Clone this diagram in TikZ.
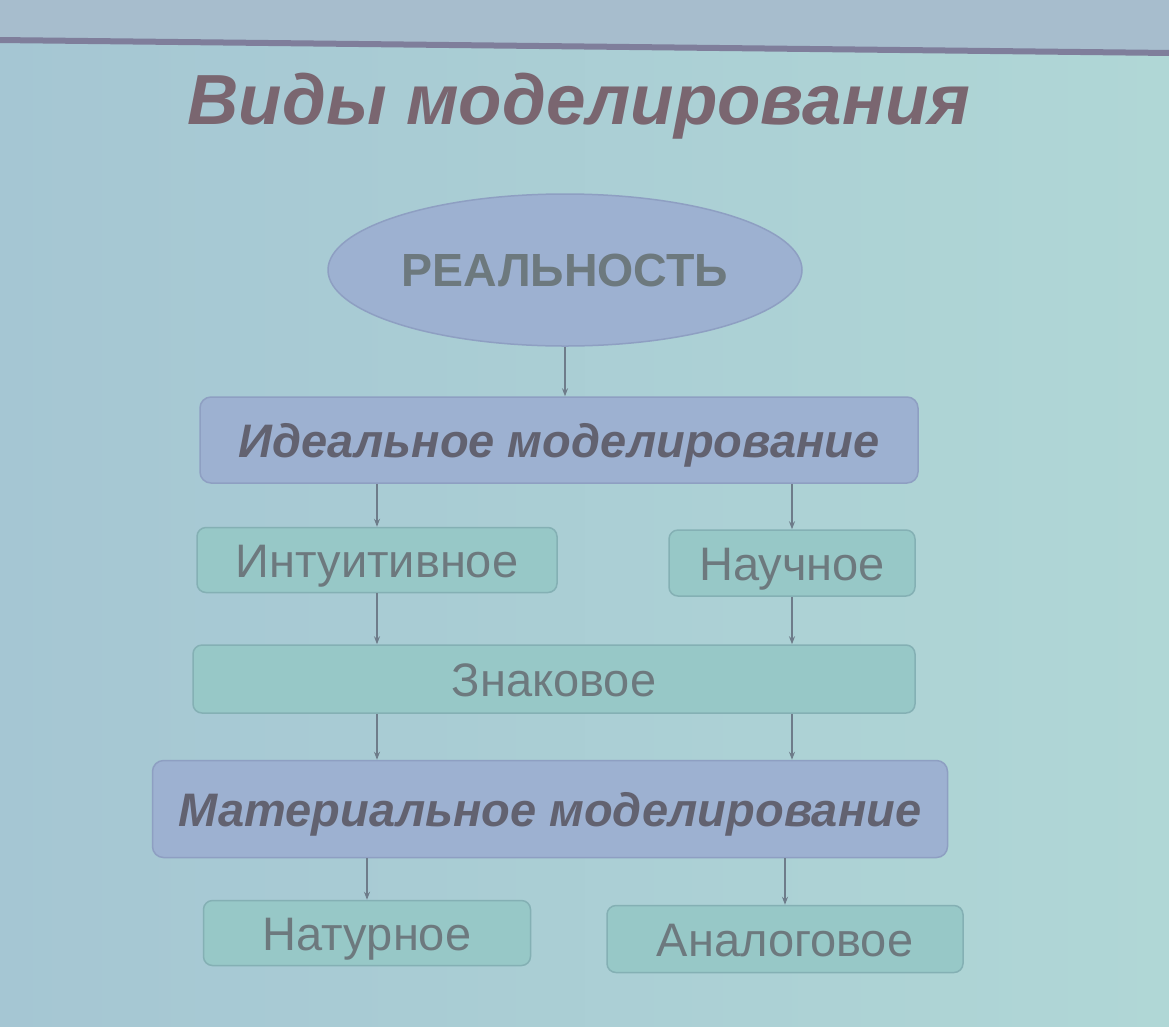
\documentclass[tikz,border=0pt]{standalone}
\usepackage{fontspec}
\setmainfont{Liberation Sans}
\usetikzlibrary{arrows.meta,shapes.geometric}
\definecolor{bgA}{HTML}{A5C6D3}
\definecolor{bgB}{HTML}{B0D7D6}
\definecolor{topband}{HTML}{A7BDCD}
\definecolor{rule}{HTML}{7F7E9B}
\definecolor{titlecol}{HTML}{7A6670}
\definecolor{lav}{HTML}{9DB1D1}
\definecolor{lavedge}{HTML}{8E9FC2}
\definecolor{teal}{HTML}{97C8C7}
\definecolor{tealedge}{HTML}{84B0B4}
\definecolor{txt}{HTML}{6D797E}
\definecolor{txtdark}{HTML}{626270}
\definecolor{arrowcol}{HTML}{6E7C8A}
\tikzset{
  lavbox/.style={draw=lavedge, line width=1.5pt, fill=lav, rounded corners=11pt,
    text=txtdark, text height=34pt, text depth=0pt,
    font=\fontsize{47}{47}\selectfont\bfseries\itshape},
  tealbox/.style={draw=tealedge, line width=1.5pt, fill=teal, rounded corners=9pt,
    text=txt, text height=34pt, text depth=0pt,
    font=\fontsize{47}{47}\selectfont},
  arr/.style={draw=arrowcol, line width=1.3pt, -{Stealth[length=8pt,width=6pt]}}
}
\begin{document}
\begin{tikzpicture}[x=1pt,y=-1pt]
  \useasboundingbox (0,0) rectangle (1169,1026);
  % slide background and header band
  \shade[left color=bgA, right color=bgB] (-2,-2) rectangle (1171,1028);
  \fill[topband] (-2,-2) -- (1171,-2) -- (1171,52) -- (-2,40) -- cycle;
  \draw[rule, line width=6pt] (-2,40) -- (1171,53);

  % title
  \node[text=titlecol, font=\fontsize{71}{71}\selectfont\bfseries\itshape]
    (title) at (579,106) {Виды моделирования};

  % ellipse
  \node[draw=lavedge, line width=1.5pt, fill=lav, ellipse, minimum width=474pt,
    minimum height=152pt, inner sep=0pt, text=txt,
    font=\fontsize{46.5}{46.5}\selectfont\bfseries] (real) at (565,270) {РЕАЛЬНОСТЬ};

  % boxes
  \node[lavbox, minimum width=718pt, minimum height=86pt] (ideal) at (559,440)
    {Идеальное моделирование};
  \node[tealbox, minimum width=360pt, minimum height=65pt] (intu) at (377,560)
    {Интуитивное};
  \node[tealbox, minimum width=246pt, minimum height=66pt] (nauch) at (792,563)
    {Научное};
  \node[tealbox, minimum width=722pt, minimum height=68pt] (znak) at (554,679)
    {Знаковое};
  \node[lavbox, minimum width=795pt, minimum height=97pt] (mat) at (550,809)
    {Материальное моделирование};
  \node[tealbox, minimum width=327pt, minimum height=65pt] (nat) at (367,933)
    {Натурное};
  \node[tealbox, minimum width=356pt, minimum height=67pt] (anal) at (785,939)
    {Аналоговое};

  % connectors
  \draw[arr] (real.south) -- (ideal.north -| real.south);
  \draw[arr] (ideal.south -| intu.north) -- (intu.north);
  \draw[arr] (ideal.south -| nauch.north) -- (nauch.north);
  \draw[arr] (intu.south) -- (znak.north -| intu.south);
  \draw[arr] (nauch.south) -- (znak.north -| nauch.south);
  \draw[arr] (znak.south -| intu.south) -- (mat.north -| intu.south);
  \draw[arr] (znak.south -| nauch.south) -- (mat.north -| nauch.south);
  \draw[arr] (mat.south -| nat.north) -- (nat.north);
  \draw[arr] (mat.south -| anal.north) -- (anal.north);
\end{tikzpicture}
\end{document}
